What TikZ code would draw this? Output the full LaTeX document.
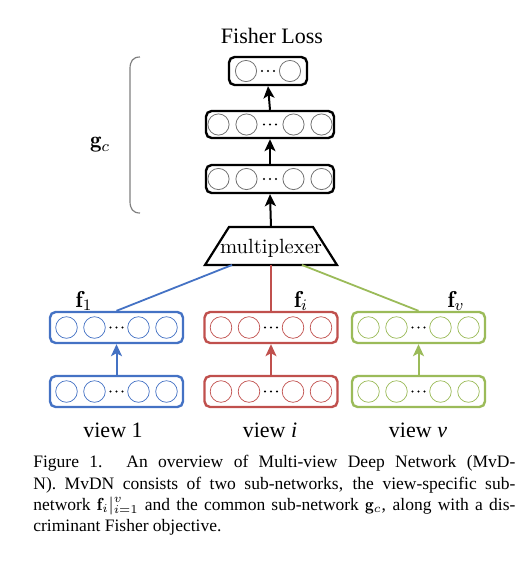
\documentclass[tikz,border=0pt]{standalone}
\usepackage{amsmath}
\usepackage{fontspec}
\usepackage{tikz}
\usetikzlibrary{arrows.meta}
\usetikzlibrary{calc}

\newfontfamily\timesfont{Liberation Serif}

\definecolor{vblue}{RGB}{68,114,196}
\definecolor{vred}{RGB}{192,80,77}
\definecolor{vgreen}{RGB}{155,187,89}

\tikzset{
	blayer/.style={draw=black,line width=1.2pt,rounded corners=2.8pt,inner sep=0pt},
	gunit/.style={draw=black!55,line width=0.4pt},
	cunit/.style={line width=0.35pt},
	uparrow/.style={-{Stealth[length=6pt,width=5.5pt,inset=1.5pt]},line width=1pt}
}

\begin{document}
\begin{tikzpicture}[x=0.5pt,y=-0.5pt]
\useasboundingbox (0,0) rectangle (528,564);

% common sub-network g_c
\node[blayer,minimum width=39pt,minimum height=14pt] (gtop) at (268,71) {};
\node[blayer,minimum width=64pt,minimum height=13.5pt] (g2) at (270,124.5) {};
\node[blayer,minimum width=64pt,minimum height=14pt] (g1) at (270,179) {};

\foreach \dx in {-22,22}
	\draw[gunit] ($(gtop)+(\dx,0)$) circle (5.3pt);
\foreach \n in {g1,g2}
	\foreach \dx in {-51.5,-23.5,23.5,51.5}
		\draw[gunit] ($(\n)+(\dx,0)$) circle (5.3pt);
\foreach \n in {gtop,g1,g2}
	\foreach \dx in {-6,0,6}
		\fill ($(\n)+(\dx,0)$) circle (0.55pt);

\node[font=\timesfont\fontsize{11}{13}\selectfont,anchor=base] (loss) at (272,43) {Fisher Loss};

\draw[gray,line width=0.6pt] (140,57) .. controls (133,57) and (130,61) .. (130,69) -- (130,201) .. controls (130,209) and (133,213) .. (140,213);
\node[font=\fontsize{11.5}{13}\selectfont] (gc) at (100,145) {$\mathbf{g}_c$};

% multiplexer
\node[inner sep=0pt,font=\fontsize{10.3}{12}\selectfont] (mux) at (271,248) {multiplexer};
\coordinate (muxtop) at (271,227);
\draw[line width=1.1pt,line join=miter] (205,265) -- (337,265) -- (313,227) -- (229,227) -- cycle;
\coordinate (m1) at (232,265);
\coordinate (mi) at (271,265);
\coordinate (mv) at (302,265);

\draw[uparrow] (muxtop) -- (g1.south);
\draw[uparrow] (g1.north) -- (g2.south);
\draw[uparrow] (g2.north) -- (gtop.south);

% view-specific sub-networks f_i
\def\x{116.5};
\node[blayer,draw=vblue,minimum width=66.5pt,minimum height=15.5pt] (up1) at (\x,327.5) {};
\node[blayer,draw=vblue,minimum width=66.5pt,minimum height=15.5pt] (lo1) at (\x,391.5) {};
\foreach \n in {up1,lo1} {
	\foreach \dx in {-50,-22,22,50}
		\draw[cunit,vblue] ($(\n)+(\dx,0)$) circle (5.4pt);
	\foreach \dx in {-6,0,6}
		\fill ($(\n)+(\dx,0)$) circle (0.55pt);
}
\draw[uparrow,vblue] (lo1.north) -- (up1.south);
\draw[vblue,line width=0.9pt] (m1) -- (up1.north);
\node[font=\fontsize{11.5}{13}\selectfont] (f1) at (84,301) {$\mathbf{f}_1$};
\node[font=\timesfont\fontsize{11}{13}\selectfont,anchor=base] (view1) at (113,437) {view 1};

\def\x{271};
\node[blayer,draw=vred,minimum width=66.5pt,minimum height=15.5pt] (upi) at (\x,327.5) {};
\node[blayer,draw=vred,minimum width=66.5pt,minimum height=15.5pt] (loi) at (\x,391.5) {};
\foreach \n in {upi,loi} {
	\foreach \dx in {-50,-22,22,50}
		\draw[cunit,vred] ($(\n)+(\dx,0)$) circle (5.4pt);
	\foreach \dx in {-6,0,6}
		\fill ($(\n)+(\dx,0)$) circle (0.55pt);
}
\draw[uparrow,vred] (loi.north) -- (upi.south);
\draw[vred,line width=0.9pt] (mi) -- (upi.north);
\node[font=\fontsize{11.5}{13}\selectfont] (fi) at (301,301) {$\mathbf{f}_i$};
\node[font=\timesfont\fontsize{11}{13}\selectfont,anchor=base] (viewi) at (270,437) {view \textit{i}};

\def\x{418.5};
\node[blayer,draw=vgreen,minimum width=66.5pt,minimum height=15.5pt] (upv) at (\x,327.5) {};
\node[blayer,draw=vgreen,minimum width=66.5pt,minimum height=15.5pt] (lov) at (\x,391.5) {};
\foreach \n in {upv,lov} {
	\foreach \dx in {-50,-22,22,50}
		\draw[cunit,vgreen] ($(\n)+(\dx,0)$) circle (5.4pt);
	\foreach \dx in {-6,0,6}
		\fill ($(\n)+(\dx,0)$) circle (0.55pt);
}
\draw[uparrow,vgreen] (lov.north) -- (upv.south);
\draw[vgreen,line width=0.9pt] (mv) -- (upv.north);
\node[font=\fontsize{11.5}{13}\selectfont] (fv) at (456,301) {$\mathbf{f}_v$};
\node[font=\timesfont\fontsize{11}{13}\selectfont,anchor=base] (viewv) at (418,437) {view \textit{v}};

% caption
\node[anchor=north west,inner sep=0pt,text width=241pt,align=justify,
	font=\timesfont\fontsize{8.75}{10.7}\selectfont] (cap) at (33,455)
	{Figure 1. An overview of Multi-view Deep Network (MvD-\linebreak
	N). MvDN consists of two sub-networks, the view-specific sub-\linebreak
	network $\mathbf{f}_i|_{i=1}^{v}$ and the common sub-network $\mathbf{g}_c$, along with a dis-\linebreak
	criminant Fisher objective.};

\end{tikzpicture}
\end{document}
